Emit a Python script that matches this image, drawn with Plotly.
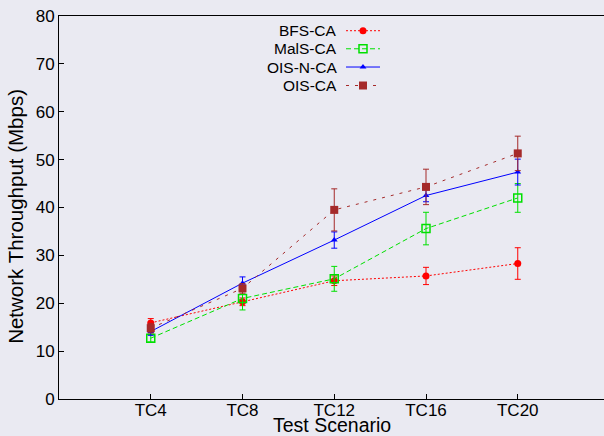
import plotly.graph_objects as go

scenarios = ["TC4", "TC8", "TC12", "TC16", "TC20"]
xpos = [1, 2, 3, 4, 5]

bfs = [15.9, 20.3, 24.7, 25.7, 28.3]
bfs_err = [0.9, 0.8, 1.0, 1.8, 3.3]
mals = [12.7, 21.0, 25.1, 35.6, 42.0]
mals_err = [0.8, 2.4, 2.6, 3.4, 3.0]
oisn = [14.1, 24.2, 33.2, 42.5, 47.4]
oisn_err = [0.8, 1.3, 1.7, 1.3, 2.7]
ois = [14.8, 23.1, 39.5, 44.3, 51.3]
ois_err = [1.0, 1.0, 4.4, 3.7, 3.6]

series = [
    ("BFS-CA", bfs, bfs_err, "#FF0000", "2px,2px", dict(symbol="circle", size=7)),
    ("MalS-CA", mals, mals_err, "#00E000", "5px,3px", dict(symbol="square-open", size=8, line=dict(width=1.5))),
    ("OIS-N-CA", oisn, oisn_err, "#0000FF", "solid", dict(symbol="triangle-up", size=6)),
    ("OIS-CA", ois, ois_err, "#A52A2A", "3px,6px", dict(symbol="square", size=8)),
]

BG = "#EAEAF2"
FONT = "Liberation Sans, Arial, sans-serif"

fig = go.Figure()
for name, vals, errs, color, dash, marker in series:
    fig.add_trace(go.Scatter(
        x=xpos, y=vals, name=name, mode="lines+markers",
        line=dict(color=color, width=1, dash=dash),
        marker=dict(color=color, **marker),
        error_y=dict(type="data", array=errs, color=color, thickness=1, width=3),
        showlegend=False,
    ))

# custom legend (gnuplot style: text then sample) on an overlay axis pair
leg_y = [0.9616, 0.9144, 0.8668, 0.8185]
for (name, vals, errs, color, dash, marker), ly in zip(series, leg_y):
    fig.add_trace(go.Scatter(
        x=[0.5266, 0.589], y=[ly, ly], mode="lines",
        line=dict(color=color, width=1, dash=dash),
        xaxis="x2", yaxis="y2", showlegend=False, hoverinfo="skip",
    ))
    fig.add_trace(go.Scatter(
        x=[0.5578], y=[ly], mode="markers",
        marker=dict(color=color, **marker),
        xaxis="x2", yaxis="y2", showlegend=False, hoverinfo="skip",
    ))
    fig.add_annotation(
        x=0.5132, y=ly, xref="x2", yref="y2", text=name, showarrow=False,
        xanchor="right", yanchor="middle", font=dict(family=FONT, size=15.5, color="#000"),
    )

# axis titles
fig.add_annotation(
    x=0.5, y=-0.068, xref="paper", yref="paper", text="Test Scenario",
    showarrow=False, xanchor="center", yanchor="middle",
    font=dict(family=FONT, size=19.5, color="#000"),
)
fig.add_annotation(
    x=-0.079, y=0.478, xref="paper", yref="paper", text="Network Throughput (Mbps)",
    showarrow=False, xanchor="center", yanchor="middle", textangle=-90,
    font=dict(family=FONT, size=20.5, color="#000"),
)

fig.update_layout(
    width=604, height=436,
    margin=dict(l=59, r=0, t=16, b=37),
    paper_bgcolor=BG, plot_bgcolor=BG,
    font=dict(family=FONT, size=17, color="#000"),
    xaxis=dict(
        range=[0, 5.94], tickvals=xpos, ticktext=scenarios,
        showgrid=False, zeroline=False, showline=True, linecolor="#000", linewidth=1,
        mirror=True, ticks="inside", ticklen=5, tickcolor="#000",
        tickfont=dict(size=17), ticklabelstandoff=-4,
    ),
    yaxis=dict(
        range=[0, 80], dtick=10,
        showgrid=False, zeroline=False, showline=True, linecolor="#000", linewidth=1,
        mirror=True, ticks="inside", ticklen=5, tickcolor="#000",
        tickfont=dict(size=17),
    ),
    xaxis2=dict(range=[0, 1], overlaying="x", visible=False, fixedrange=True),
    yaxis2=dict(range=[0, 1], overlaying="y", visible=False, fixedrange=True),
)

fig.write_html("out.html")
